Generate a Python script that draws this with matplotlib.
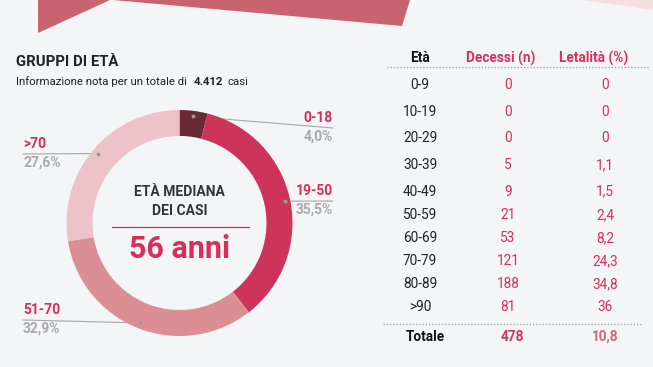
#!/usr/bin/env python3
"""
Gruppi di età — donut + tabella letalità
"""
import matplotlib
matplotlib.use("Agg")
import matplotlib.pyplot as plt
import numpy as np

plt.rcParams["font.family"] = ["Roboto", "DejaVu Sans"]

# ── Palette ───────────────────────────────────────────────────────────────
BG       = "#F4F5F7"
BANNER   = "#C8646F"
BANNER_L = "#F4E0E1"
PINK     = "#D6305A"
PINK_L   = "#D46674"
GREY     = "#A9A9AD"
DARK     = "#222226"
SEG_CLR  = ["#682B35", "#CE3459", "#DB8F95", "#EDC3C8"]

# ── Data ──────────────────────────────────────────────────────────────────
groups     = ["0-18", "19-50", "51-70", ">70"]
shares     = [4.0, 35.5, 32.9, 27.6]
share_lbls = ["4,0%", "35,5%", "32,9%", "27,6%"]
total_cases = "4.412"
median_age  = "56 anni"

ages     = ["0-9", "10-19", "20-29", "30-39", "40-49",
            "50-59", "60-69", "70-79", "80-89", ">90"]
deaths   = [0, 0, 0, 5, 9, 21, 53, 121, 188, 81]
lethality = ["0", "0", "0", "1,1", "1,5", "2,4", "8,2", "24,3", "34,8", "36"]
tot_deaths = 478
tot_leth   = "10,8"

# ── Figure ────────────────────────────────────────────────────────────────
W, H = 653, 367
fig = plt.figure(figsize=(W / 100, H / 100), dpi=100, facecolor=BG)
bg = fig.add_axes([0, 0, 1, 1])
bg.set_xlim(0, W)
bg.set_ylim(H, 0)
bg.axis("off")
bg.set_facecolor(BG)

# decorative banner at the top
bg.fill([38, 38, 110], [0, 33, 0], color=BANNER, lw=0)
bg.fill([113, 410, 402], [0, 0, 26], color=BANNER, lw=0)
bg.fill([583, 653, 653], [0, 0, 10], color=BANNER_L, lw=0)

# titles
bg.text(16, 62, "GRUPPI DI ETÀ", fontsize=10.7, fontweight="bold",
        color=DARK, va="center", ha="left")
bg.text(16, 82, "Informazione nota per un totale di", fontsize=8.2,
        color=DARK, va="center", ha="left")
bg.text(194, 82, total_cases, fontsize=8.2, fontweight="bold",
        color=DARK, va="center", ha="left")
bg.text(228, 82, "casi", fontsize=8.2, color=DARK, va="center", ha="left")

# ── Donut ─────────────────────────────────────────────────────────────────
CX, CY, R = 179.5, 223, 113
ax = fig.add_axes([(CX - R) / W, (H - CY - R) / H, 2 * R / W, 2 * R / H])
ax.pie(shares, colors=SEG_CLR, startangle=90, counterclock=False,
       radius=1, wedgeprops=dict(width=0.23, linewidth=0))
ax.set_xlim(-1, 1)
ax.set_ylim(-1, 1)
ax.axis("off")

# leader lines: label side point -> middle of each segment
label_pos = [  # (x text edge, y line, side)
    (333, 128, "right"),
    (333, 201, "right"),
    (23, 320, "left"),
    (23, 154, "left"),
]
cum = np.cumsum([0] + shares[:-1])
for g, s, c0, pl, (lx, ly, side) in zip(groups, share_lbls, cum, shares, label_pos):
    ang = np.deg2rad(90 - (c0 + pl / 2) / 100 * 360)
    px, py = 0.95 * np.cos(ang), 0.95 * np.sin(ang)
    bg.annotate("", xy=(px, py), xycoords=ax.transData,
                xytext=(lx, ly), textcoords="data",
                arrowprops=dict(arrowstyle="-", color="#A6A6A6", lw=0.8,
                                shrinkA=0, shrinkB=0))
    ax.plot(px, py, "o", ms=1.8, color="#9A9A9A", zorder=5)
    bg.text(lx, ly - 3, g, fontsize=10, fontweight="bold", color=PINK,
            ha=side, va="bottom")
    bg.text(lx, ly + 2, s, fontsize=10, fontweight="bold", color=GREY,
            ha=side, va="top")

# centre text
bg.text(CX, 192, "ETÀ MEDIANA", fontsize=10, fontweight="bold",
        color="#33333A", ha="center", va="center")
bg.text(CX, 211, "DEI CASI", fontsize=10, fontweight="bold",
        color="#33333A", ha="center", va="center")
bg.plot([112, 249], [227, 227], color=PINK, lw=0.9)
bg.text(CX, 249, median_age, fontsize=22, fontweight="bold",
        color=PINK, ha="center", va="center")

# ── Table ─────────────────────────────────────────────────────────────────
COL_AGE, COL_DEC, COL_LET = 420, 508, 605
row_y = [85, 111.5, 138, 165, 191.5, 215, 238, 261, 284, 307]

bg.text(COL_AGE, 58, "Età", fontsize=9.8, fontweight="bold", color="#111",
        ha="center", va="center")
bg.text(501, 58, "Decessi (n)", fontsize=9.8, fontweight="bold", color=PINK,
        ha="center", va="center")
bg.text(594, 58, "Letalità (%)", fontsize=9.8, fontweight="bold", color=PINK,
        ha="center", va="center")
bg.plot([387, 648], [67, 67], color="#9A9A9A", lw=0.9, ls=(0, (1, 1.6)))

for y, a, d, l in zip(row_y, ages, deaths, lethality):
    bg.text(COL_AGE, y, a, fontsize=9.8, color=DARK, ha="center", va="center")
    bg.text(COL_DEC, y, str(d), fontsize=9.8, color=PINK, ha="center", va="center")
    bg.text(COL_LET, y, l, fontsize=9.8, color=PINK, ha="center", va="center")

bg.plot([383, 643], [324, 324], color="#9A9A9A", lw=0.9, ls=(0, (1, 1.6)))
bg.text(425, 337, "Totale", fontsize=9.8, fontweight="bold", color="#111",
        ha="center", va="center")
bg.text(512, 337, str(tot_deaths), fontsize=9.8, fontweight="bold", color="#C8385E",
        ha="center", va="center")
bg.text(COL_LET, 337, tot_leth, fontsize=9.8, fontweight="bold", color=PINK_L,
        ha="center", va="center")

fig.savefig("out.png", dpi=100, facecolor=BG)
